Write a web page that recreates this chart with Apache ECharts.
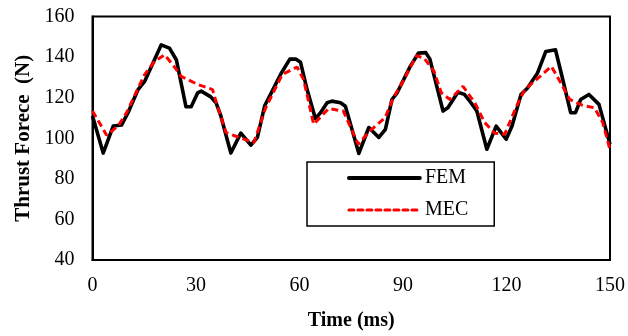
<!DOCTYPE html>
<html>
<head>
<meta charset="utf-8">
<script src="https://cdn.jsdelivr.net/npm/echarts@6/dist/echarts.min.js"></script>
<style>
html,body{margin:0;padding:0;background:#fff;}
#chart{width:628px;height:336px;}
</style>
</head>
<body>
<div id="chart"></div>
<script>
var xTicks = [0, 30, 60, 90, 120, 150];
var yTicks = [40, 60, 80, 100, 120, 140, 160];

var femTime = [0, 3.1, 6.0, 8.4, 10.3, 13.2, 15.1, 19.9, 22.3, 24.3, 27.1, 28.6, 30.5, 31.5, 34.3, 35.8, 37.2, 40.1, 43.0, 45.9, 47.8, 49.9, 51.6, 54.5, 57.2, 58.9, 60.3, 62.2, 64.6, 66.1, 68.0, 69.4, 71.9, 73.3, 75.2, 77.2, 80.1, 83.0, 84.9, 86.8, 88.3, 92.1, 94.5, 96.6, 97.8, 101.6, 103.0, 105.9, 107.8, 109.7, 111.4, 114.3, 117.0, 119.9, 121.6, 124.2, 126.1, 129.0, 131.4, 134.2, 136.2, 138.6, 140.0, 141.5, 143.9, 146.8, 150];
var femForce = [111, 92.7, 106, 106.5, 112.6, 124, 128, 146, 144.4, 138.7, 115.5, 115.5, 122.4, 123.2, 120.4, 117.5, 111, 92.7, 102.5, 96.6, 100.4, 116, 121.6, 131.4, 139, 139, 137.4, 124, 109.7, 112.6, 117.5, 118.3, 117.5, 115.8, 104.4, 92.5, 105.3, 100.4, 104.4, 119.1, 122.4, 135.4, 142, 142.2, 139, 113.4, 115, 122.7, 121.6, 117.5, 113.4, 94.6, 106, 99.5, 106, 121.6, 124.8, 132.2, 142.8, 143.6, 129.7, 112.6, 112.6, 119.1, 121.6, 116.7, 97.1];

var mecTime = [0, 4.1, 7.4, 9.9, 12.8, 15.1, 18.0, 20.9, 23.3, 25.7, 30.5, 34.8, 36.2, 38.7, 42.5, 46.8, 50.2, 52.6, 55.0, 59.3, 61.2, 64.1, 68.4, 72.7, 77.0, 80.4, 84.8, 87.2, 90.0, 93.9, 96.1, 99.0, 101.1, 103.6, 107.4, 110.8, 113.7, 116.6, 119.5, 122.9, 125.3, 129.2, 133.0, 135.5, 138.3, 142.1, 145.5, 147.9, 150];
var mecForce = [113.4, 101.5, 106, 112.6, 123.2, 131.4, 137.9, 141.1, 136.2, 130.5, 126.5, 124, 115.8, 102.8, 100.4, 97.9, 115, 123.2, 131.4, 135.1, 128.9, 106.9, 114.6, 113.4, 97.1, 103.6, 110.1, 119.9, 128, 140.7, 139.5, 133, 122.4, 119.1, 125.6, 117.5, 107.7, 102.5, 102, 115.8, 124, 129.7, 135.4, 128, 119.1, 116.2, 115, 107.7, 94.3];

function pairs(xs, ys) { return xs.map(function (x, i) { return [x, ys[i]]; }); }

var FONT = '"Liberation Serif", "Times New Roman", serif';
var chart = echarts.init(document.getElementById('chart'), null, {renderer: 'canvas'});
chart.setOption({
  animation: false,
  backgroundColor: '#ffffff',
  textStyle: {fontFamily: FONT, color: '#000'},
  grid: {left: 92.5, right: 15, top: 16.5, bottom: 74.5, show: true, borderColor: '#000', borderWidth: 2, backgroundColor: 'transparent'},
  legend: {
    left: 307, top: 162, orient: 'vertical',
    padding: [6, 26, 6, 40], itemGap: 12, itemWidth: 71, itemHeight: 14,
    borderColor: '#000', borderWidth: 1.5,
    itemStyle: {opacity: 0},
    textStyle: {fontFamily: FONT, fontSize: 20, color: '#000'},
    data: [
      {name: 'FEM', lineStyle: {width: 3.8, cap: 'round'}},
      {name: 'MEC', lineStyle: {width: 3, type: [5, 4], cap: 'round'}}
    ]
  },
  xAxis: {
    type: 'value', min: xTicks[0], max: xTicks[xTicks.length - 1], interval: xTicks[1] - xTicks[0],
    name: 'Time (ms)', nameLocation: 'middle', nameGap: 51,
    nameTextStyle: {fontFamily: FONT, fontSize: 20, fontWeight: 'bold', color: '#000'},
    axisLine: {show: true, lineStyle: {color: '#000', width: 2}},
    axisTick: {show: false},
    splitLine: {show: false},
    axisLabel: {fontFamily: FONT, fontSize: 20, color: '#000', margin: 16}
  },
  yAxis: {
    type: 'value', min: yTicks[0], max: yTicks[yTicks.length - 1], interval: yTicks[1] - yTicks[0],
    name: 'Thrust Forece  (N)', nameLocation: 'middle', nameGap: 57, nameRotate: 90,
    nameTextStyle: {fontFamily: FONT, fontSize: 21, fontWeight: 'bold', color: '#000'},
    axisLine: {show: true, lineStyle: {color: '#000', width: 2}},
    axisTick: {show: false},
    splitLine: {show: false},
    axisLabel: {fontFamily: FONT, fontSize: 20, color: '#000', margin: 18}
  },
  series: [
    {name: 'FEM', type: 'line', data: pairs(femTime, femForce), symbol: 'none', z: 3,
     lineStyle: {color: '#000', width: 3.6, join: 'round'}, itemStyle: {color: '#000'}},
    {name: 'MEC', type: 'line', data: pairs(mecTime, mecForce), symbol: 'none', z: 4,
     lineStyle: {color: '#ff0000', width: 3, type: [7, 4]}, itemStyle: {color: '#ff0000'}}
  ]
});
</script>
</body>
</html>
